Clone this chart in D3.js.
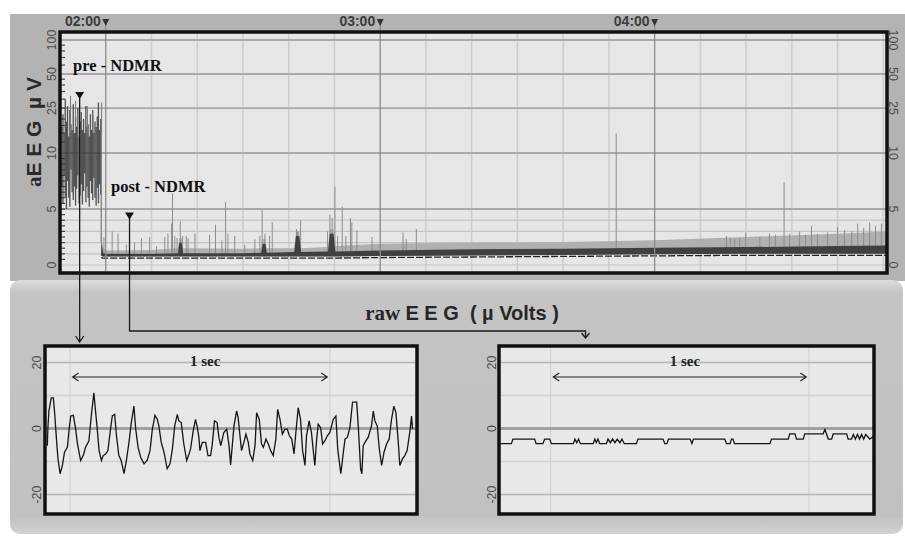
<!DOCTYPE html>
<html lang="en">
<head>
<meta charset="UTF-8">
<title>aEEG / raw EEG</title>
<script src="https://d3js.org/d3.v7.min.js"></script>
<style>
  body { margin: 0; background: #fff; }
  svg { display: block; }
</style>
</head>
<body>
<svg id="chart" width="905" height="541"></svg>
<script>
// ---------- data ----------
// aEEG: time in minutes relative to 02:00
const hourMarks = [0, 60, 120];
const hourLabels = ["02:00", "03:00", "04:00"];
const tenMinLines = [10, 20, 30, 40, 50, 70, 80, 90, 100, 110, 130, 140, 150, 160, 170];
const yTickValues = [0, 5, 10, 25, 50, 100];
const yTickLabels = ["0", "5", "10", "25", "50", "100"];
const yMajorGrid = [5, 10, 25, 50, 100];
const yMinorGrid = [0, 1, 2, 3, 4];
const rulerTicks = [0.5, 1, 1.5, 2, 2.5, 3, 3.5, 4, 4.5, 5, 5.5, 6, 6.5, 7, 7.5, 8, 8.5, 9, 9.5,
                    12.5, 15, 17.5, 20, 25, 30, 35, 40, 45, 60, 70, 80, 90];

// pre-NDMR dense section (upper / lower margins per sample, µV)
const preFrom = -9.6, preTo = -1.1;
const preHi = [17, 22, 15, 30, 19, 26, 14, 24, 18, 16, 27, 15, 21, 17, 25, 14, 19, 23, 16, 20,
               15, 26, 17, 18, 14, 22, 16, 24, 15, 19, 17, 21, 28, 16, 20];
const preLo = [7, 5.5, 8, 6, 5, 7.5, 6, 5.2, 8.5, 6.5, 5.8, 7, 5.3, 6.8, 8, 5.5, 6.2, 7.2, 5.4, 6.6,
               8.2, 5.6, 7, 6, 5.2, 7.5, 6.4, 5.8, 7.8, 6, 5.3, 6.9, 5.5, 7.2, 6.3];
const preSpikeT = [-7.7, -6.6, -4.0, -2.8, -0.9];
const preSpikeV = [32, 29, 26, 22, 28];

// post-NDMR background band
const bandT   = [-1.0, -0.6, 0, 10, 15.8, 16.1, 16.6, 16.9, 30, 34.0, 34.3, 34.9, 35.2, 41.2, 41.6, 42.3, 42.7,
                 48.6, 49.0, 49.8, 50.2, 60, 80, 100, 120, 140, 160, 170.8];
const bandLo  = [0.8, 0.75, 0.75, 0.75, 0.75, 0.75, 0.75, 0.75, 0.75, 0.75, 0.75, 0.75, 0.75, 0.75, 0.75, 0.75, 0.75,
                 0.75, 0.75, 0.75, 0.75, 0.8, 0.85, 0.9, 0.95, 1.0, 1.0, 1.0];
const bandHi  = [2.2, 1.1, 1.0, 1.0, 1.05, 2.0, 2.0, 1.05, 1.05, 1.1, 1.9, 1.9, 1.1, 1.15, 2.6, 2.6, 1.15,
                 1.2, 2.8, 2.8, 1.2, 1.3, 1.4, 1.45, 1.55, 1.6, 1.7, 1.75];
const noiseHi = [2.6, 1.5, 1.3, 1.35, 1.5, 2.4, 2.4, 1.5, 1.45, 1.5, 2.3, 2.3, 1.5, 1.5, 3.0, 3.0, 1.5,
                 1.6, 3.2, 3.2, 1.7, 1.9, 2.0, 2.05, 2.2, 2.5, 2.8, 3.0];

// post-NDMR spikes
const spikeT = [-0.4, 1.4, 2.7, 4.5, 6.3, 7.8, 9.6, 11.1, 12.9, 13.6, 14.4, 14.6, 15.1, 15.6, 16.3, 16.8, 17.6, 18.0,
                19.5, 22.7, 24.0, 25.4, 26.2, 26.7, 28.2, 30.4, 32.6, 33.7, 34.2, 34.8, 35.8, 36.4, 41.7, 42.0, 42.6,
                48.5, 49.0, 49.5, 50.1, 50.7, 51.7, 52.5, 53.5, 53.8, 54.9, 58.2, 65.0, 65.7, 67.9, 111.6,
                135.7, 136.6, 137.5, 138.6, 139.9, 143.0, 145.1, 146.4, 148.3, 149.5, 151.7, 153.0, 154.3, 155.6,
                157.8, 160.0, 161.5, 163.1, 164.4, 165.7, 167.0, 168.3, 169.6];
const spikeV = [2.5, 3.0, 2.8, 1.8, 2.0, 2.4, 2.5, 1.7, 2.5, 2.8, 3.7, 6.4, 2.6, 2.4, 3.9, 2.6, 2.6, 2.4,
                2.8, 2.7, 3.6, 2.2, 5.6, 2.8, 2.6, 1.8, 2.3, 2.6, 4.9, 2.8, 2.6, 3.8, 3.2, 3.0, 4.0,
                3.0, 4.5, 4.2, 7.0, 2.6, 5.2, 2.6, 4.2, 3.8, 3.1, 2.5, 2.9, 2.3, 3.2, 14.9,
                2.6, 2.4, 2.3, 2.4, 2.9, 2.5, 2.8, 2.7, 7.4, 2.8, 3.0, 2.7, 3.5, 2.8,
                2.9, 3.4, 3.1, 3.0, 3.7, 3.3, 3.8, 3.5, 3.7];

// markers (minute, µV)
const preMarker = { t: -5.7, v: 34 };
const postMarker = { t: 5.2, v: 4.6 };

// raw EEG, time in ms, value in µV
const rawTicks = [20, 0, -20];
const rawGrid = [20, 10, -10, -20];
const rawPreT = [-87, -85, -81, -72, -64, -59, -51, -46, -38, -29, -21, -10, -3, 3, 13, 22, 28, 41, 51, 60,
  73, 82, 92, 99, 105, 112, 121, 128, 137, 146, 156, 163, 172, 179, 188, 197, 208, 217, 227, 236,
  246, 253, 262, 272, 285, 297, 308, 317, 327, 336, 342, 351, 362, 374, 385, 394, 403, 413, 419, 428,
  438, 449, 458, 464, 474, 483, 490, 496, 500, 509, 522, 531, 541, 547, 556, 566, 573, 580, 586, 592,
  603, 612, 618, 631, 641, 647, 654, 660, 669, 677, 686, 692, 703, 712, 718, 728, 737, 744, 754, 763,
  772, 782, 792, 799, 808, 817, 827, 836, 844, 853, 862, 869, 878, 887, 895, 904, 910, 920, 929, 936,
  942, 949, 955, 964, 972, 981, 990, 1000, 1013, 1023, 1030, 1042, 1051, 1058, 1067, 1077, 1087, 1103, 1109, 1118,
  1123, 1128, 1135, 1147, 1160, 1167, 1173, 1182, 1190, 1199, 1208, 1218, 1228, 1237, 1246, 1254, 1263, 1269, 1279, 1288,
  1297, 1308, 1314, 1318];
const rawPreV = [-5.2, 0, 5.3, 9.3, 9.3, 4.8, -4.2, -9.2, -13.7, -11.2, -7.2, -5.7, -0.2, 3.8, 4, -0.2, -4.2, -9.7, -8.2, -5.7,
  -3.7, 3.8, 10.8, 4.8, -0.2, -6.7, -9.7, -8.2, -7.7, -6.7, -0.2, 3.8, 4.3, -2.2, -8.2, -9.7, -13.7, -9.7, -4.2, 1.8,
  6.8, -0.2, -5.7, -8.7, -10.7, -9.7, -6.7, -0.2, 4, 2.8, 0.8, -4.2, -7.2, -12.2, -10.7, -6.2, 0.8, 4.3, 2.3, 1.8,
  -4.7, -9.7, -7.7, -6.2, -0.7, 2.8, 0.3, -2.7, -6.7, -4.2, -4.2, -8.2, -8.2, -5.2, 2.3, 1.8, -2.7, -5.2, -3.2, -1.2,
  -0.2, -5.2, -11, 0.8, 5.3, 3.3, -2.2, -6.7, -4.2, -1.7, -4.2, -7.7, -9.7, -5.2, 4.8, 2.8, -4.7, -5.7, -3.2, -4.7,
  -6.7, -8.2, -3.2, 5.8, 2.8, -1.7, -0.2, -0.2, -2.2, -3.2, -7.7, -1.2, 6.3, 2.8, -6.7, -11.2, -2.2, 2.3, -1.2, -6.7,
  -11.2, -3.2, 1.3, 0.3, -4.7, -3.7, -2.2, -1.2, 2.8, 3.8, -6.2, -13.7, -7.7, -3.2, -2.7, 0.3, 8, 8, 0.8, -12.2,
  -13.7, -5.2, -4.2, -2.7, 0.8, 5.3, 2.3, 0.8, -6.2, -11.2, -7.2, -4.7, -3.2, 2.8, 6.8, 4.8, -4.2, -11.2, -9.2, -8.2,
  -6.7, -0.7, 3.8, -0.2];
const rawPostT = [-198, -152, -146, -62, -56, -30, -23, -4, 3, 88, 94, 101, 108, 115, 165, 171, 177, 183, 190, 216,
  222, 231, 240, 249, 258, 268, 276, 285, 332, 338, 435, 442, 450, 456, 540, 547, 553, 674, 681, 695,
  700, 706, 712, 849, 855, 920, 926, 946, 952, 978, 984, 1055, 1062, 1075, 1088, 1094, 1146, 1152, 1165, 1172,
  1180, 1188, 1196, 1204, 1212, 1220, 1236, 1248];
const rawPostV = [-4.6, -4.6, -3.2, -3.2, -4.6, -4.6, -3.2, -3.2, -4.6, -4.6, -3.2, -4.3, -3.2, -4.6, -4.6, -3.2, -4.3, -3.2, -4.6, -4.6,
  -3.2, -4.3, -3.2, -4.3, -3.2, -4.3, -3.2, -4.6, -4.6, -3.2, -3.2, -4.6, -4.6, -3.2, -3.2, -4.6, -3.2, -3.2, -4.6, -4.6,
  -3.2, -3.2, -4.6, -4.6, -3.2, -3.2, -1.6, -1.6, -3.2, -3.2, -1.6, -1.6, -0.3, -3.2, -3.2, -1.6, -1.6, -3.2, -3.2, -1.8,
  -3.2, -1.8, -3.2, -1.8, -3.2, -1.8, -3.2, -2.5];

// ---------- setup ----------
const SERIF = "'Liberation Serif', 'Times New Roman', serif";
const SANS = "'Liberation Sans', Arial, sans-serif";
const svg = d3.select("#chart");
const defs = svg.append("defs");

const xTop = d3.scaleLinear().domain([-10, 170.8]).range([60, 887]);
const yLin = d3.scaleLinear().domain([0, 10]).range([265, 153]);
const yLog = d3.scaleLog().domain([10, 100]).range([153, 40]);
const yA = v => v <= 10 ? yLin(v) : yLog(v);
const plot = { x0: 60, x1: 887, y0: 32, y1: 273 };

// ---------- panels ----------
svg.append("rect").attr("x", 10).attr("y", 14).attr("width", 895).attr("height", 267).attr("fill", "#b3b3b3");

const lg = defs.append("linearGradient").attr("id", "lowGrad").attr("x1", 0).attr("y1", 0).attr("x2", 0).attr("y2", 1);
lg.append("stop").attr("offset", "0%").attr("stop-color", "#dcdcdc");
lg.append("stop").attr("offset", "5%").attr("stop-color", "#c4c4c4");
lg.append("stop").attr("offset", "93%").attr("stop-color", "#c1c1c1");
lg.append("stop").attr("offset", "100%").attr("stop-color", "#d2d2d2");
svg.append("rect").attr("x", 10).attr("y", 280).attr("width", 893).attr("height", 254)
  .attr("rx", 10).attr("fill", "url(#lowGrad)");

// ---------- aEEG plot ----------
svg.append("rect").attr("x", plot.x0).attr("y", plot.y0).attr("width", plot.x1 - plot.x0).attr("height", plot.y1 - plot.y0)
  .attr("fill", "#e6e6e6");

const grid = svg.append("g");
grid.selectAll(".vmin").data(tenMinLines).join("line")
  .attr("x1", d => xTop(d)).attr("x2", d => xTop(d)).attr("y1", plot.y0).attr("y2", plot.y1)
  .attr("stroke", "#cdcdcd").attr("stroke-width", 1.5);
grid.selectAll(".hmin").data(yMinorGrid).join("line")
  .attr("x1", plot.x0).attr("x2", plot.x1).attr("y1", d => yA(d)).attr("y2", d => yA(d))
  .attr("stroke", "#c4c4c4").attr("stroke-width", 1.2);
grid.selectAll(".hmaj").data(yMajorGrid).join("line")
  .attr("x1", plot.x0).attr("x2", plot.x1).attr("y1", d => yA(d)).attr("y2", d => yA(d))
  .attr("stroke", "#a9a9a9").attr("stroke-width", 1.8);

// ruler ticks on the left edge
svg.append("g").selectAll("line").data(rulerTicks).join("line")
  .attr("x1", plot.x0 + 1).attr("x2", plot.x0 + 5).attr("y1", d => yA(d)).attr("y2", d => yA(d))
  .attr("stroke", "#444").attr("stroke-width", 1.2);

// post band
const bandIdx = d3.range(bandT.length);
const noiseArea = d3.area().x(i => xTop(bandT[i])).y0(i => yA(bandLo[i])).y1(i => yA(noiseHi[i]));
const coreArea = d3.area().x(i => xTop(bandT[i])).y0(i => yA(bandLo[i])).y1(i => yA(bandHi[i]));
svg.append("path").datum(bandIdx).attr("d", noiseArea).attr("fill", "#b0b0b0");

// spikes
svg.append("g").selectAll("line").data(spikeT).join("line")
  .attr("x1", d => xTop(d)).attr("x2", d => xTop(d))
  .attr("y1", yA(1)).attr("y2", (d, i) => yA(spikeV[i]))
  .attr("stroke", "#8c8c8c").attr("stroke-width", 1);

svg.append("path").datum(bandIdx).attr("d", coreArea).attr("fill", "#404040");
svg.append("path").datum(bandIdx)
  .attr("d", d3.line().x(i => xTop(bandT[i])).y(i => yA(bandLo[i]) + 1.5))
  .attr("fill", "none").attr("stroke", "#222").attr("stroke-width", 1.3).attr("stroke-dasharray", "7,2");

// pre band
const preX = d3.scaleLinear().domain([0, preHi.length - 1]).range([preFrom, preTo]);
svg.append("g").selectAll("line").data(preHi).join("line")
  .attr("x1", (d, i) => xTop(preX(i))).attr("x2", (d, i) => xTop(preX(i)))
  .attr("y1", (d, i) => yA(preLo[i])).attr("y2", d => yA(d))
  .attr("stroke", "#383838").attr("stroke-width", 1.3).attr("stroke-opacity", 0.85);
svg.append("g").selectAll("line").data(preSpikeT).join("line")
  .attr("x1", d => xTop(d)).attr("x2", d => xTop(d))
  .attr("y1", yA(15)).attr("y2", (d, i) => yA(preSpikeV[i]))
  .attr("stroke", "#777").attr("stroke-width", 1);
// drop to baseline
svg.append("line").attr("x1", xTop(preTo) + 0.5).attr("x2", xTop(preTo) + 0.5)
  .attr("y1", yA(20)).attr("y2", yA(2)).attr("stroke", "#777").attr("stroke-width", 1.2);

// hour lines + labels
const hours = svg.append("g");
hours.selectAll("line").data(hourMarks).join("line")
  .attr("x1", d => xTop(d)).attr("x2", d => xTop(d)).attr("y1", 19).attr("y2", plot.y1)
  .attr("stroke", "#8a8a8a").attr("stroke-width", 1.3);
hours.selectAll("path").data(hourMarks).join("path")
  .attr("d", d => `M${xTop(d) - 3.5},19 L${xTop(d) + 3.5},19 L${xTop(d)},26 Z`)
  .attr("fill", "#333");
hours.selectAll("text").data(hourMarks).join("text")
  .attr("x", d => xTop(d) - 5).attr("y", 26)
  .attr("text-anchor", "end").attr("font-family", SANS).attr("font-weight", "bold")
  .attr("font-size", 14).attr("fill", "#3c3c3c")
  .text((d, i) => hourLabels[i]);

// border
svg.append("rect").attr("x", plot.x0).attr("y", plot.y0).attr("width", plot.x1 - plot.x0).attr("height", plot.y1 - plot.y0)
  .attr("fill", "none").attr("stroke", "#111").attr("stroke-width", 3.5);

// y tick labels
svg.append("g").selectAll("text").data(yTickValues).join("text")
  .attr("transform", d => `translate(52,${yA(d)}) rotate(-90)`)
  .attr("dy", "0.35em").attr("text-anchor", "middle")
  .attr("font-family", SANS).attr("font-size", 12.5).attr("fill", "#4a4a4a")
  .text((d, i) => yTickLabels[i]);
svg.append("g").selectAll("text").data(yTickValues).join("text")
  .attr("transform", d => `translate(893,${yA(d)}) rotate(90)`)
  .attr("dy", "0.35em").attr("text-anchor", "middle")
  .attr("font-family", SANS).attr("font-size", 12.5).attr("fill", "#4a4a4a")
  .text((d, i) => yTickLabels[i]);

// y axis title
const yt = svg.append("text").attr("transform", "translate(34,132) rotate(-90)")
  .attr("dy", "0.35em").attr("text-anchor", "middle").attr("font-size", 21).attr("fill", "#2a2a2a");
yt.append("tspan").attr("font-family", SERIF).attr("font-weight", "bold").text("a");
yt.append("tspan").attr("font-family", SANS).attr("font-weight", "bold").attr("xml:space", "preserve").text("E E G  µ V");

// annotations
svg.append("text").attr("x", 73).attr("y", 71).attr("font-family", SERIF).attr("font-weight", "bold")
  .attr("font-size", 16.5).attr("fill", "#111").text("pre - NDMR");
svg.append("text").attr("x", 111).attr("y", 192).attr("font-family", SERIF).attr("font-weight", "bold")
  .attr("font-size", 16.5).attr("fill", "#111").text("post - NDMR");

// ---------- raw EEG ----------
const title = svg.append("text").attr("x", 462).attr("y", 320).attr("text-anchor", "middle")
  .attr("fill", "#262626").attr("xml:space", "preserve");
title.append("tspan").attr("font-family", SERIF).attr("font-weight", "bold").attr("font-size", 21).text("raw ");
title.append("tspan").attr("font-family", SANS).attr("font-weight", "bold").attr("font-size", 20).text("E E G  ( µ Volts )");

const yRaw = d3.scaleLinear().domain([-25.9, 25]).range([514, 346]);

function rawChart(x0, x1, xs, labelX, ts, vs) {
  const g = svg.append("g");
  g.append("rect").attr("x", x0).attr("y", 346).attr("width", x1 - x0).attr("height", 168).attr("fill", "#e8e8e8");
  g.selectAll(".vg").data([0, 1]).join("line")
    .attr("x1", d => xs(d)).attr("x2", d => xs(d)).attr("y1", 346).attr("y2", 514)
    .attr("stroke", "#d2d2d2").attr("stroke-width", 1.2);
  g.selectAll(".hg").data(rawGrid).join("line")
    .attr("x1", x0).attr("x2", x1).attr("y1", d => yRaw(d)).attr("y2", d => yRaw(d))
    .attr("stroke", d => Math.abs(d) === 20 ? "#b4b4b4" : "#d0d0d0").attr("stroke-width", 1.4);
  g.append("line").attr("x1", x0).attr("x2", x1).attr("y1", yRaw(0)).attr("y2", yRaw(0))
    .attr("stroke", "#a0a0a0").attr("stroke-width", 3);

  // 1 sec arrow
  const ay = 377, a0 = xs(0.01), a1 = xs(0.99);
  g.append("path")
    .attr("d", `M${a0},${ay} L${a1},${ay} M${a0 + 6},${ay - 4} L${a0},${ay} L${a0 + 6},${ay + 4} M${a1 - 6},${ay - 4} L${a1},${ay} L${a1 - 6},${ay + 4}`)
    .attr("fill", "none").attr("stroke", "#222").attr("stroke-width", 1.1);
  g.append("text").attr("x", xs(0.52)).attr("y", 366).attr("text-anchor", "middle")
    .attr("font-family", SERIF).attr("font-weight", "bold").attr("font-size", 15).attr("fill", "#222")
    .text("1 sec");

  g.append("path").datum(d3.range(ts.length))
    .attr("d", d3.line().x(i => xs(ts[i] / 1000)).y(i => yRaw(vs[i])))
    .attr("fill", "none").attr("stroke", "#151515").attr("stroke-width", 1.3);

  g.append("rect").attr("x", x0).attr("y", 346).attr("width", x1 - x0).attr("height", 168)
    .attr("fill", "none").attr("stroke", "#111").attr("stroke-width", 3.5);

  g.selectAll(".yl").data(rawTicks).join("text")
    .attr("transform", d => `translate(${labelX},${yRaw(d)}) rotate(-90)`)
    .attr("dy", "0.35em").attr("text-anchor", "middle")
    .attr("font-family", SANS).attr("font-size", 12.5).attr("fill", "#4a4a4a")
    .text(d => d);
}

const xRawL = d3.scaleLinear().domain([-0.096, 1.335]).range([45, 417]);
const xRawR = d3.scaleLinear().domain([-0.2, 1.252]).range([499, 874]);
rawChart(45, 417, xRawL, 37, rawPreT, rawPreV);
rawChart(499, 874, xRawR, 492, rawPostT, rawPostV);

// ---------- connector arrows ----------
const conn = svg.append("g").attr("fill", "none").attr("stroke", "#1a1a1a").attr("stroke-width", 1.3);
const px = xTop(preMarker.t), py = yA(preMarker.v);
const qx = xTop(postMarker.t), qy = yA(postMarker.v);
const qEnd = xRawR(0.135);
conn.append("path").attr("d", `M${px},${py} L${px},342 M${px - 4},336 L${px},342 L${px + 4},336`);
conn.append("path").attr("d", `M${qx},${qy} L${qx},331 L${qEnd},331 L${qEnd},338 M${qEnd - 4},333 L${qEnd},338 L${qEnd + 4},333`);
svg.append("path").attr("d", `M${px - 4.5},${py - 1} L${px + 4.5},${py - 1} L${px},${py + 6} Z`).attr("fill", "#111");
svg.append("path").attr("d", `M${qx - 4.5},${qy - 1} L${qx + 4.5},${qy - 1} L${qx},${qy + 6} Z`).attr("fill", "#111");
</script>
</body>
</html>
